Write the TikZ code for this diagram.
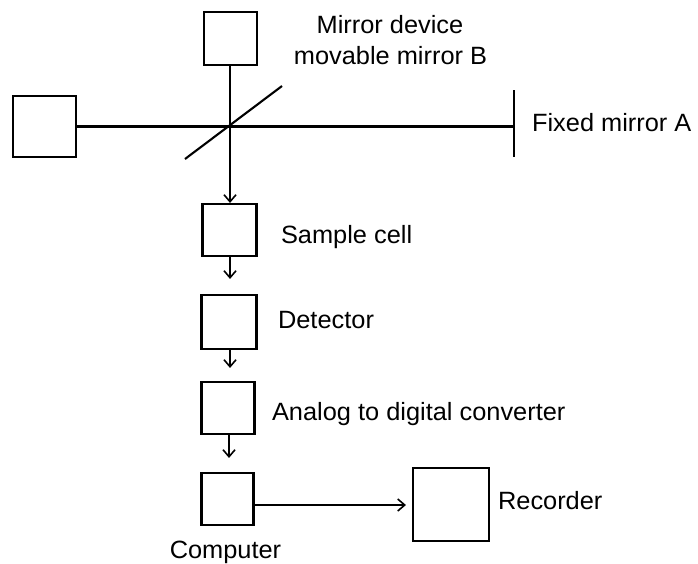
\documentclass[tikz,border=0pt]{standalone}
\usepackage{fontspec}
\setmainfont{Liberation Sans}
\usetikzlibrary{arrows.meta}
\begin{document}
\begin{tikzpicture}[x=1pt,y=-1pt,
  line width=2.1pt,
  unit/.style={draw, line width=2.1pt, inner sep=0pt, fill=white},
  lbl/.style={font=\fontsize{25}{30}\selectfont, inner sep=0pt, xscale=1.015},
  flow/.style={-{Straight Barb[length=7pt,width=12pt,line width=1.6pt]}}]
  \useasboundingbox (0,0) rectangle (698,563);

  % optical part: source, movable mirror, beam splitter, fixed mirror
  \node[unit, minimum width=53pt, minimum height=53pt] (mirrorB) at (230.5,38.5) {};
  \node[unit, minimum width=63pt, minimum height=61pt] (source) at (44.5,126.5) {};
  \coordinate (mirAtop) at (514,90);
  \coordinate (mirAbot) at (514,157);
  \coordinate (mirA) at (514,126.5);
  \coordinate (bsA) at (185,159);
  \coordinate (bsB) at (282,86);

  % detection chain
  \node[unit, minimum width=54pt, minimum height=52pt] (sample) at (229.5,230) {};
  \node[unit, minimum width=55pt, minimum height=54pt] (detector) at (229,322) {};
  \node[unit, minimum width=53pt, minimum height=52pt] (adc) at (228,408) {};
  \node[unit, minimum width=52pt, minimum height=52pt] (computer) at (227.5,499) {};
  \node[unit, minimum width=76pt, minimum height=73pt] (recorder) at (451,504.5) {};

  % beams
  \draw (source.east) -- (mirA);
  \draw (mirAtop) -- (mirAbot);
  \draw (bsA) -- (bsB);
  \draw[flow] (mirrorB.south -| 230,0) -- (sample.north -| 230,0);
  \draw[flow, shorten >=15pt] (sample.south -| 230,0) -- (detector.north -| 230,0);
  \draw[flow, shorten >=13pt] (detector.south -| 230,0) -- (adc.north -| 230,0);
  \draw[flow, shorten >=14pt] (adc.south -| 229,0) -- (computer.north -| 229,0);
  \draw[flow, shorten >=6pt] (computer.east |- 0,505) -- (recorder.west |- 0,505);

  % labels
  \node[lbl, anchor=base] (tMirror) at (390,33) {Mirror device};
  \node[lbl, anchor=base] (tMovable) at (390.5,64) {movable mirror B};
  \node[lbl, anchor=base west] (tFixed) at (531,131) {Fixed mirror A};
  \node[lbl, anchor=base west] (tSample) at (280,243) {Sample cell};
  \node[lbl, anchor=base west] (tDetector) at (277,328) {Detector};
  \node[lbl, anchor=base west] (tAdc) at (271,420) {Analog to digital converter};
  \node[lbl, anchor=base west] (tRecorder) at (497,509) {Recorder};
  \node[lbl, anchor=base] (tComputer) at (225.5,558) {Computer};
\end{tikzpicture}
\end{document}
